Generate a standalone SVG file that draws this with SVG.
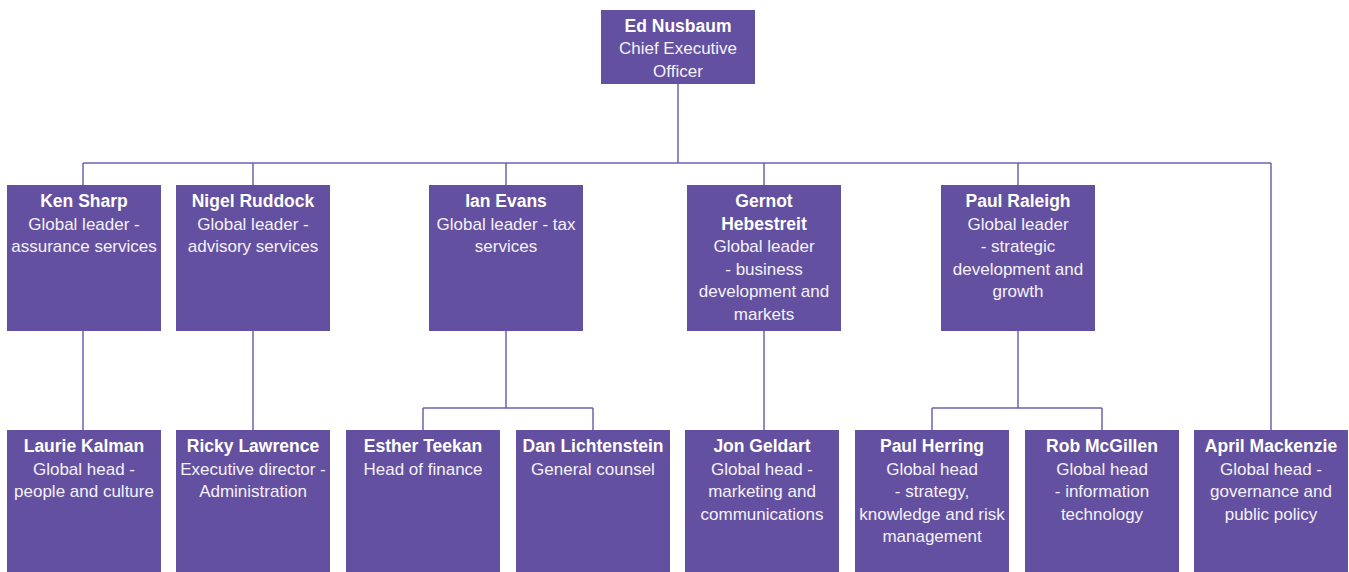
<svg xmlns="http://www.w3.org/2000/svg" width="1349" height="572" viewBox="0 0 1349 572">
<style>
.box{fill:#6350a0}
.n{font-family:"Liberation Sans",Arial,sans-serif;font-weight:bold;font-size:17.5px;fill:#ffffff;text-anchor:middle}
.t{font-family:"Liberation Sans",Arial,sans-serif;font-size:17px;fill:#f4f2fa;text-anchor:middle}
.c{fill:none;stroke:#6f61ae;stroke-width:1.5}
</style>
<rect width="1349" height="572" fill="#ffffff"/>
<g id="connectors">
<path class="c" d="M678 84V163M83 163H1271M83 163V185M253 163V185M506 163V185M764 163V185M1018 163V185M1271 163V430"/>
<path class="c" d="M83 331V430M253 331V430M764 331V430"/>
<path class="c" d="M506 331V408M423 408H593M423 408V430M593 408V430"/>
<path class="c" d="M1018 331V408M932 408H1102M932 408V430M1102 408V430"/>
</g>
<g id="ed-nusbaum"><rect class="box" x="601" y="10" width="154" height="74"/>
<text class="n" x="678" y="31.5">Ed Nusbaum</text><text class="t" x="678" y="54">Chief Executive</text><text class="t" x="678" y="76.5">Officer</text></g>
<g id="ken-sharp"><rect class="box" x="7" y="185" width="154" height="146"/>
<text class="n" x="84" y="207">Ken Sharp</text><text class="t" x="84" y="229.5">Global leader -</text><text class="t" x="84" y="252">assurance services</text></g>
<g id="nigel-ruddock"><rect class="box" x="176" y="185" width="154" height="146"/>
<text class="n" x="253" y="207">Nigel Ruddock</text><text class="t" x="253" y="229.5">Global leader -</text><text class="t" x="253" y="252">advisory services</text></g>
<g id="ian-evans"><rect class="box" x="429" y="185" width="154" height="146"/>
<text class="n" x="506" y="207">Ian Evans</text><text class="t" x="506" y="229.5">Global leader - tax</text><text class="t" x="506" y="252">services</text></g>
<g id="gernot-hebestreit"><rect class="box" x="687" y="185" width="154" height="146"/>
<text class="n" x="764" y="207">Gernot</text><text class="n" x="764" y="229.5">Hebestreit</text><text class="t" x="764" y="252">Global leader</text><text class="t" x="764" y="274.5">- business</text><text class="t" x="764" y="297">development and</text><text class="t" x="764" y="319.5">markets</text></g>
<g id="paul-raleigh"><rect class="box" x="941" y="185" width="154" height="146"/>
<text class="n" x="1018" y="207">Paul Raleigh</text><text class="t" x="1018" y="229.5">Global leader</text><text class="t" x="1018" y="252">- strategic</text><text class="t" x="1018" y="274.5">development and</text><text class="t" x="1018" y="297">growth</text></g>
<g id="laurie-kalman"><rect class="box" x="7" y="430" width="154" height="142"/>
<text class="n" x="84" y="452">Laurie Kalman</text><text class="t" x="84" y="474.5">Global head -</text><text class="t" x="84" y="497">people and culture</text></g>
<g id="ricky-lawrence"><rect class="box" x="176" y="430" width="154" height="142"/>
<text class="n" x="253" y="452">Ricky Lawrence</text><text class="t" x="253" y="474.5">Executive director -</text><text class="t" x="253" y="497">Administration</text></g>
<g id="esther-teekan"><rect class="box" x="346" y="430" width="154" height="142"/>
<text class="n" x="423" y="452">Esther Teekan</text><text class="t" x="423" y="474.5">Head of finance</text></g>
<g id="dan-lichtenstein"><rect class="box" x="516" y="430" width="154" height="142"/>
<text class="n" x="593" y="452">Dan Lichtenstein</text><text class="t" x="593" y="474.5">General counsel</text></g>
<g id="jon-geldart"><rect class="box" x="685" y="430" width="154" height="142"/>
<text class="n" x="762" y="452">Jon Geldart</text><text class="t" x="762" y="474.5">Global head -</text><text class="t" x="762" y="497">marketing and</text><text class="t" x="762" y="519.5">communications</text></g>
<g id="paul-herring"><rect class="box" x="855" y="430" width="154" height="142"/>
<text class="n" x="932" y="452">Paul Herring</text><text class="t" x="932" y="474.5">Global head</text><text class="t" x="932" y="497">- strategy,</text><text class="t" x="932" y="519.5">knowledge and risk</text><text class="t" x="932" y="542">management</text></g>
<g id="rob-mcgillen"><rect class="box" x="1025" y="430" width="154" height="142"/>
<text class="n" x="1102" y="452">Rob McGillen</text><text class="t" x="1102" y="474.5">Global head</text><text class="t" x="1102" y="497">- information</text><text class="t" x="1102" y="519.5">technology</text></g>
<g id="april-mackenzie"><rect class="box" x="1194" y="430" width="154" height="142"/>
<text class="n" x="1271" y="452">April Mackenzie</text><text class="t" x="1271" y="474.5">Global head -</text><text class="t" x="1271" y="497">governance and</text><text class="t" x="1271" y="519.5">public policy</text></g>
</svg>
